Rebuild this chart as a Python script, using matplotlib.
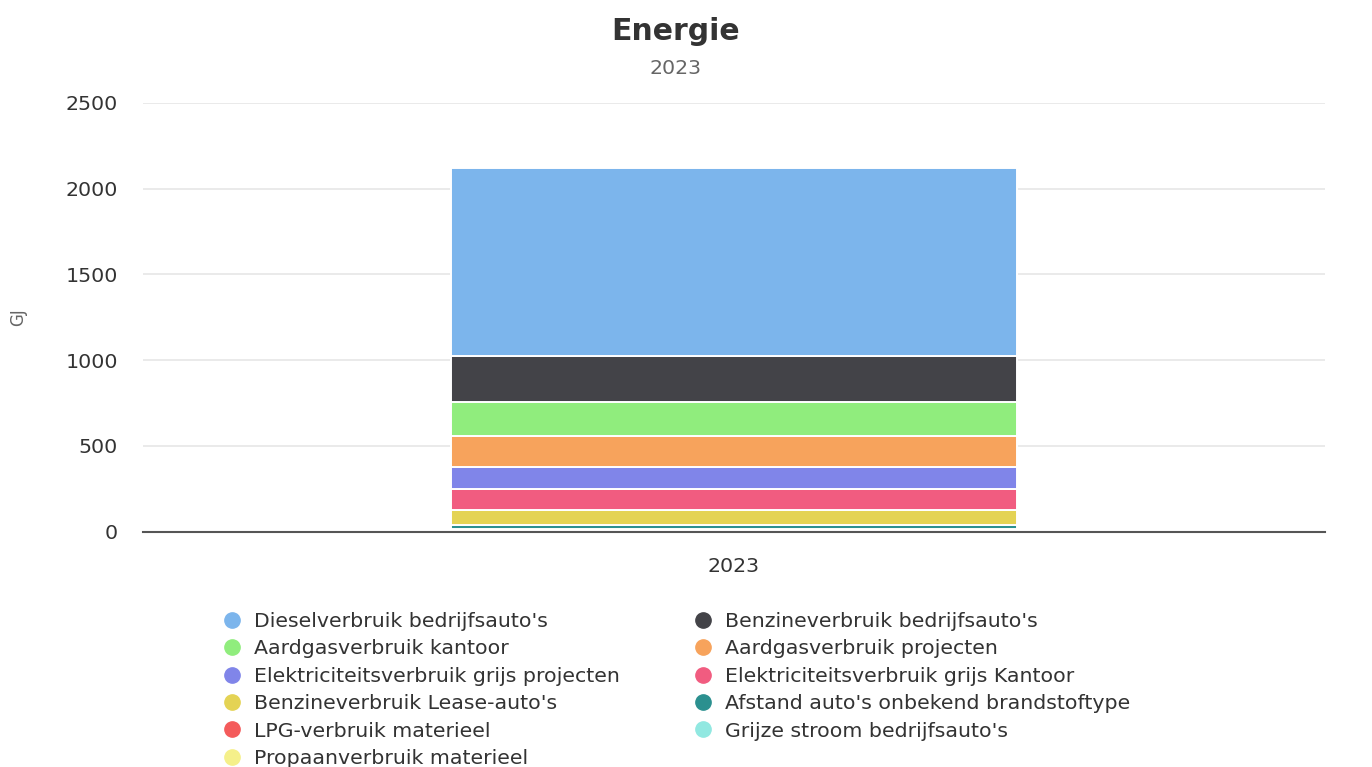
import numpy as np
import matplotlib.pyplot as plt
from matplotlib.lines import Line2D

# Energy use per source for 2023, in GJ (stacked from the bottom up)
year = "2023"
series_names = [
    "Dieselverbruik bedrijfsauto's",
    "Benzineverbruik bedrijfsauto's",
    "Aardgasverbruik kantoor",
    "Aardgasverbruik projecten",
    "Elektriciteitsverbruik grijs projecten",
    "Elektriciteitsverbruik grijs Kantoor",
    "Benzineverbruik Lease-auto's",
    "Afstand auto's onbekend brandstoftype",
    "LPG-verbruik materieel",
    "Grijze stroom bedrijfsauto's",
    "Propaanverbruik materieel",
]
series_values = [1096, 273, 196, 178, 129, 123, 89, 24, 4, 8, 2]
series_colors = [
    "#7cb5ec", "#434348", "#90ed7d", "#f7a35c", "#8085e9", "#f15c80",
    "#e4d354", "#2b908f", "#f45b5b", "#91e8e1", "#f5f08a",
]
y_ticks = [0, 500, 1000, 1500, 2000, 2500]

plt.rcParams['font.family'] = ['DejaVu Sans']

fig = plt.figure(figsize=(13.72, 7.67), dpi=100)
ax = fig.add_axes([143 / 1372, 1 - 531.5 / 767, 1182 / 1372, 428.5 / 767])

# last series sits at the bottom of the stack, first one on top
bottom = 0
order = list(range(len(series_values)))[::-1]
for i in order:
    ax.bar(0, series_values[i], width=0.479, bottom=bottom, color=series_colors[i],
           edgecolor="white", linewidth=1.4, zorder=3)
    bottom += series_values[i]

ax.set_xlim(-0.5, 0.5)
ax.set_ylim(0, 2500)
ax.set_yticks(y_ticks)
ax.set_yticklabels([str(t) for t in y_ticks])
ax.set_xticks([0])
ax.set_xticklabels([year])
ax.tick_params(axis="y", length=0, pad=18, labelsize=14.75, labelcolor="#333333")
ax.tick_params(axis="x", length=0, pad=18, labelsize=14.75, labelcolor="#333333")
ax.grid(axis="y", color="#e6e6e6", linewidth=1.2, zorder=0)
for side in ["top", "right", "left"]:
    ax.spines[side].set_visible(False)
ax.spines["bottom"].set_color("#555555")
ax.spines["bottom"].set_linewidth(1.5)
ax.spines["bottom"].set_zorder(4)

ax.set_ylabel("GJ", fontsize=12, color="#666666", labelpad=0)
ax.yaxis.set_label_coords(-116 / 1182, 0.5)

fig.text(676 / 1372, 1 - 31 / 767, "Energie", ha="center", va="center",
         fontsize=21.5, fontweight="bold", color="#333333")
fig.text(676 / 1372, 1 - 69 / 767, year, ha="center", va="center",
         fontsize=14.75, color="#666666")

# legend is filled row by row: two entries per row
handles = [Line2D([], [], linestyle="none", marker="o", markersize=11,
                  markerfacecolor=c, markeredgecolor=c) for c in series_colors]
col_order = list(range(0, len(series_names), 2)) + list(range(1, len(series_names), 2))
fig.legend([handles[i] for i in col_order], [series_names[i] for i in col_order],
           loc="upper left", bbox_to_anchor=(223.8 / 1372, 1 - 612 / 767),
           ncol=2, frameon=False, fontsize=14.75, handlelength=0.8,
           handletextpad=0.67, labelspacing=0.41, columnspacing=3.66,
           borderpad=0, borderaxespad=0, labelcolor="#333333")

fig.savefig("out.png", dpi=100)
